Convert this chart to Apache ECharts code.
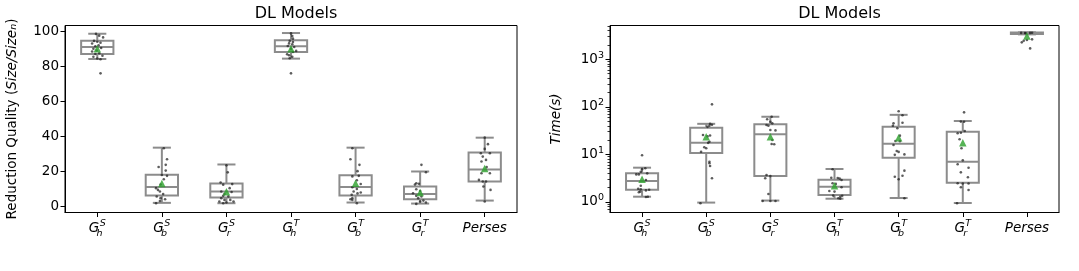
<!DOCTYPE html>
<html>
<head>
<meta charset="utf-8">
<script src="https://cdn.jsdelivr.net/npm/echarts@6/dist/echarts.min.js"></script>
<style>
  html, body { margin: 0; padding: 0; background: #fff; }
  #chart { width: 1079px; height: 271px; }
</style>
</head>
<body>
<div id="chart"></div>
<script>
// ---------------- DATA ----------------
const categories = ['G_h^S', 'G_b^S', 'G_r^S', 'G_h^T', 'G_b^T', 'G_r^T', 'Perses'];

// Box stats per category: [lowWhisker, Q1, median, Q3, highWhisker]
const qualityBoxes = [
  [84.2, 87.1, 91.0, 94.6, 98.6],
  [2.1, 6.3, 11.1, 18.1, 33.6],
  [1.9, 5.1, 8.6, 13.1, 24.0],
  [84.4, 88.2, 91.4, 94.9, 99.0],
  [2.3, 6.3, 11.2, 17.9, 33.6],
  [1.7, 4.2, 7.1, 11.4, 20.0],
  [3.4, 14.3, 21.1, 30.8, 39.3]
];
const qualityMeans = [90.0, 13.1, 8.5, 90.1, 13.3, 8.0, 21.7];

// Individual points per category: [value, jitter (category units)]
const qualityPoints = [
  [[98.5,-0.02],[97.5,0.03],[96.5,0.09],[94.5,-0.05],[94,0.0],[93.5,0.05],[93,-0.08],[92,0.02],[91.5,-0.03],[90.5,0.06],[90,-0.06],[89,-0.01],[88.5,-0.08],[87.5,0.03],[87,-0.03],[86,0.08],[85.5,-0.06],[84.5,0.0],[84,0.05],[76,0.05]],
  [[33.3,0.03],[27,0.08],[23.8,0.06],[22.6,-0.05],[20.5,0.06],[18,0.0],[17.5,0.08],[15.6,0.03],[12.6,-0.02],[10.5,-0.09],[9.5,-0.06],[8.6,-0.03],[7.1,0.02],[5.7,-0.08],[4.8,-0.02],[4.2,0.05],[3.2,-0.03],[1.9,-0.09]],
  [[23.5,0.0],[19.5,0.02],[13.7,-0.09],[12.8,0.09],[12.5,-0.05],[10.5,0.05],[8.6,-0.08],[8.3,0.08],[7.1,-0.03],[6.1,-0.05],[5.8,0.03],[4.8,-0.08],[3.8,-0.03],[3.8,0.06],[2.9,-0.11],[2.3,0.0],[1.9,-0.05],[2.9,0.11]],
  [[98.8,0.0],[97.3,0.02],[95.8,0.03],[94.5,-0.02],[93.9,0.03],[93.1,-0.03],[92.6,0.02],[91.6,-0.05],[91,0.05],[90,0.0],[88.8,0.08],[88.2,0.03],[86.9,-0.06],[86.3,-0.03],[85.5,0.02],[84.6,-0.02],[76,0.0]],
  [[33.3,-0.05],[27,-0.08],[23.8,0.06],[20.2,0.03],[17.5,0.05],[17.2,-0.05],[15,0.02],[12.9,0.08],[11,-0.05],[10,0.02],[8.6,-0.03],[8,0.08],[7.5,0.03],[6.7,-0.06],[4.8,-0.05],[4.2,-0.08],[3.8,-0.05],[1.9,0.02]],
  [[23.8,0.02],[19.6,0.09],[13.3,-0.06],[13,-0.02],[12.6,-0.08],[9.9,-0.06],[8.9,0.0],[7.6,-0.11],[6.1,-0.06],[5.7,0.02],[4.8,-0.03],[3.4,0.05],[2.9,0.0],[2.3,0.09],[1.5,-0.06]],
  [[39.3,0.0],[35.6,0.05],[32.9,0.0],[30.4,0.08],[30.4,-0.06],[28.5,-0.03],[26.6,0.02],[25.7,-0.05],[22.5,0.03],[19,-0.05],[19,0.08],[15.2,-0.09],[14.3,-0.03],[14.3,0.02],[11.4,-0.02],[9.5,0.09],[2.9,0.0]]
];

const timeBoxes = [
  [1.29, 1.81, 2.76, 4.0, 5.26],
  [0.97, 10.7, 17.7, 36.5, 44],
  [1.07, 3.5, 26.5, 43, 62],
  [1.17, 1.40, 2.1, 2.94, 4.94],
  [1.21, 8.5, 16.8, 38, 68],
  [0.95, 2.55, 7.0, 30, 50.4],
  [3350, 3400, 3550, 3650, 3700]
];
const timeMeans = [3.0, 23.6, 23.6, 2.2, 22.5, 17.6, 3100];

const timePoints = [
  [[9.6,0.0],[5.1,0.05],[4.9,0.0],[4.3,-0.02],[4.0,0.08],[3.8,-0.09],[3.8,-0.05],[2.9,0.06],[2.2,-0.02],[1.9,-0.06],[1.85,-0.02],[1.8,0.11],[1.75,0.06],[1.65,-0.03],[1.6,-0.05],[1.29,0.09],[1.27,0.06]],
  [[113,0.09],[44,0.06],[42,0.09],[40,0.05],[38,0.02],[25.6,-0.05],[25,0.06],[24,0.02],[18.5,0.05],[17.5,0.03],[14.1,-0.03],[13.5,0.0],[11.4,-0.08],[7.0,0.05],[6.5,0.05],[5.7,0.06],[3.15,0.09],[0.94,-0.09]],
  [[62,0.02],[55,-0.05],[48.7,0.0],[45,0.03],[41.6,-0.06],[40,-0.03],[32.6,0.0],[32,0.08],[20.1,0.03],[16.6,0.02],[16.4,0.06],[3.7,-0.06],[3.5,0.0],[3.15,-0.08],[1.47,-0.03],[1.05,-0.12],[1.05,0.08],[1.05,0.0]],
  [[4.87,-0.03],[3.24,-0.05],[3.2,0.05],[3.1,0.08],[2.9,0.11],[2.47,-0.03],[2.4,0.02],[2.04,0.11],[1.70,-0.08],[1.65,0.0],[1.36,-0.02],[1.29,0.09],[1.35,0.12],[1.2,0.06],[1.17,0.09]],
  [[80.7,0.0],[66.5,0.06],[46.5,0.06],[45,-0.08],[40.2,-0.09],[35.4,-0.02],[24.8,0.02],[19.1,-0.05],[19,0.02],[15.8,-0.08],[11.8,-0.03],[11.3,0.0],[10,0.09],[9.8,-0.06],[4.55,0.09],[3.57,0.06],[3.4,-0.06],[3.0,0.0],[1.2,0.09]],
  [[76.8,0.02],[49,-0.03],[48.7,0.02],[31,0.03],[28.5,-0.03],[27.8,-0.08],[20.8,-0.05],[13.5,-0.02],[7.5,0.0],[6.2,-0.08],[5.26,0.09],[4.2,-0.03],[3.3,0.08],[2.47,-0.08],[2.45,0.0],[2.45,0.09],[2.04,-0.03],[1.79,0.09],[0.94,-0.09]],
  [[3600,-0.09],[3580,-0.03],[3600,0.05],[3550,-0.02],[3620,0.08],[2630,0.08],[2560,0.0],[2460,-0.05],[2275,-0.08],[1700,0.05]]
];

const qualityTicks = [0, 20, 40, 60, 80, 100];
const timeTicks = [1, 10, 100, 1000];
const timeMinorTicks = [0.7, 0.8, 0.9, 2, 3, 4, 5, 6, 7, 8, 9, 20, 30, 40, 50, 60, 70, 80, 90,
  200, 300, 400, 500, 600, 700, 800, 900, 2000, 3000, 4000, 5000];

// ---------------- STYLE ----------------
const FONT = 'DejaVu Sans';
const BOX_COLOR = '#8c8c8c';
const BOX_W = 0.5;
const CAP_W = 0.28;

function renderBox(params, api) {
  const x = api.value(0);
  const lo = api.value(1), q1 = api.value(2), med = api.value(3), q3 = api.value(4), hi = api.value(5);
  const L = api.coord([x - BOX_W / 2, med])[0];
  const R = api.coord([x + BOX_W / 2, med])[0];
  const CL = api.coord([x - CAP_W / 2, med])[0];
  const CR = api.coord([x + CAP_W / 2, med])[0];
  const cx = api.coord([x, med])[0];
  const yLo = api.coord([x, lo])[1];
  const yQ1 = api.coord([x, q1])[1];
  const yMed = api.coord([x, med])[1];
  const yQ3 = api.coord([x, q3])[1];
  const yHi = api.coord([x, hi])[1];
  const st = { stroke: BOX_COLOR, lineWidth: 2, fill: null };
  return {
    type: 'group',
    children: [
      { type: 'line', shape: { x1: cx, y1: yQ1, x2: cx, y2: yLo }, style: st },
      { type: 'line', shape: { x1: cx, y1: yQ3, x2: cx, y2: yHi }, style: st },
      { type: 'line', shape: { x1: CL, y1: yLo, x2: CR, y2: yLo }, style: st },
      { type: 'line', shape: { x1: CL, y1: yHi, x2: CR, y2: yHi }, style: st },
      { type: 'rect', shape: { x: L, y: yQ3, width: R - L, height: yQ1 - yQ3 }, style: { stroke: BOX_COLOR, lineWidth: 2, fill: 'rgba(0,0,0,0)' } },
      { type: 'line', shape: { x1: L, y1: yMed, x2: R, y2: yMed }, style: st }
    ]
  };
}

function boxData(boxes) { return boxes.map((b, i) => [i].concat(b)); }
function pointData(points) {
  const out = [];
  points.forEach((arr, i) => arr.forEach(p => out.push([i + p[1], p[0]])));
  return out;
}
function meanData(means) { return means.map((m, i) => [i, m]); }

const catLabelRich = {
  g: { fontFamily: FONT, fontStyle: 'italic', fontSize: 13.5, lineHeight: 20, color: '#000' },
  sub: { fontFamily: FONT, fontStyle: 'italic', fontSize: 9.5, lineHeight: 11, verticalAlign: 'bottom', width: 0.5, color: '#000' },
  sup: { fontFamily: FONT, fontStyle: 'italic', fontSize: 9.5, lineHeight: 11, verticalAlign: 'top', color: '#000' },
  it: { fontFamily: FONT, fontStyle: 'italic', fontSize: 13.5, lineHeight: 20, color: '#000' }
};
function catFormatter(v) {
  const m = v.match(/^G_(\w)\^(\w)$/);
  if (m) return '{g|G}{sub|' + m[1] + '}{sup|' + m[2] + '}';
  return '{it|' + v + '}';
}

function catAxis(gridIndex) {
  return {
    type: 'category', gridIndex: gridIndex, data: categories, boundaryGap: true,
    axisLine: { show: true, onZero: false, lineStyle: { color: '#000', width: 1 } },
    axisTick: { show: true, alignWithLabel: true, length: 4.5, lineStyle: { color: '#000' } },
    axisLabel: { margin: 6, formatter: catFormatter, rich: catLabelRich, interval: 0 },
    splitLine: { show: false }
  };
}
function valXAxis(gridIndex) {
  return { type: 'value', gridIndex: gridIndex, min: -0.5, max: 6.5, show: false,
    axisLine: { show: false, onZero: false }, splitLine: { show: false } };
}

const option = {
  animation: false,
  backgroundColor: '#fff',
  textStyle: { fontFamily: FONT },
  title: [
    { text: 'DL Models', left: 291, top: 1, textAlign: 'center', textStyle: { fontFamily: FONT, fontSize: 16, fontWeight: 'normal', color: '#000' } },
    { text: 'DL Models', left: 834.5, top: 1, textAlign: 'center', textStyle: { fontFamily: FONT, fontSize: 16, fontWeight: 'normal', color: '#000' } }
  ],
  grid: [
    { left: 65, top: 25.5, width: 452, height: 187, show: true, borderColor: '#000', borderWidth: 1, backgroundColor: 'transparent' },
    { left: 610, top: 25.5, width: 449, height: 187, show: true, borderColor: '#000', borderWidth: 1, backgroundColor: 'transparent' }
  ],
  xAxis: [catAxis(0), valXAxis(0), catAxis(1), valXAxis(1)],
  yAxis: [
    {
      type: 'value', gridIndex: 0, min: -3.4, max: 103.3, position: 'left',
      name: 'Reduction Quality ({i|Size/Size}{s|n})',
      nameLocation: 'middle', nameGap: 46, nameRotate: 90,
      nameTextStyle: {
        fontFamily: FONT, fontSize: 13.5, color: '#000',
        rich: {
          i: { fontFamily: FONT, fontStyle: 'italic', fontSize: 13.5, color: '#000' },
          s: { fontFamily: FONT, fontStyle: 'italic', fontSize: 9.5, color: '#000', verticalAlign: 'bottom' }
        }
      },
      axisLine: { show: true, onZero: false, lineStyle: { color: '#000' } },
      axisTick: { show: true, length: 4.5, customValues: qualityTicks, lineStyle: { color: '#000' } },
      axisLabel: { customValues: qualityTicks, margin: 6, fontFamily: FONT, fontSize: 13.5, color: '#000' },
      splitLine: { show: false }
    },
    {
      type: 'log', logBase: 10, gridIndex: 1, min: 0.6, max: 5150, position: 'left',
      name: 'Time(s)', nameLocation: 'middle', nameGap: 47, nameRotate: 90,
      nameTextStyle: { fontFamily: FONT, fontStyle: 'italic', fontSize: 13.5, color: '#000' },
      axisLine: { show: true, onZero: false, lineStyle: { color: '#000' } },
      axisTick: { show: true, length: 4.5, customValues: timeTicks, lineStyle: { color: '#000' } },
      axisLabel: {
        customValues: timeTicks, margin: 6,
        formatter: function (v) { return '{b|10}{e|' + Math.round(Math.log10(v)) + '}'; },
        rich: {
          b: { fontFamily: FONT, fontSize: 13.5, lineHeight: 18, color: '#000' },
          e: { fontFamily: FONT, fontSize: 9.5, lineHeight: 11, verticalAlign: 'top', color: '#000' }
        }
      },
      splitLine: { show: false }
    },
    {
      type: 'log', logBase: 10, gridIndex: 1, min: 0.6, max: 5150, position: 'left', offset: 0,
      axisLine: { show: false, onZero: false },
      axisTick: { show: true, length: 2.5, customValues: timeMinorTicks, lineStyle: { color: '#000', width: 0.8 } },
      axisLabel: { show: false },
      splitLine: { show: false }
    }
  ],
  series: [
    { type: 'custom', xAxisIndex: 1, yAxisIndex: 0, renderItem: renderBox, data: boxData(qualityBoxes), encode: { x: 0, y: [1, 2, 3, 4, 5] }, z: 2 },
    { type: 'scatter', xAxisIndex: 1, yAxisIndex: 0, data: pointData(qualityPoints), symbol: 'circle', symbolSize: 2.6, itemStyle: { color: 'rgba(30,30,30,0.9)' }, z: 3 },
    { type: 'scatter', xAxisIndex: 1, yAxisIndex: 0, data: meanData(qualityMeans), symbol: 'triangle', symbolSize: 7.5, itemStyle: { color: '#2ca02c' }, z: 4 },
    { type: 'custom', xAxisIndex: 3, yAxisIndex: 1, renderItem: renderBox, data: boxData(timeBoxes), encode: { x: 0, y: [1, 2, 3, 4, 5] }, z: 2 },
    { type: 'scatter', xAxisIndex: 3, yAxisIndex: 1, data: pointData(timePoints), symbol: 'circle', symbolSize: 2.6, itemStyle: { color: 'rgba(30,30,30,0.9)' }, z: 3 },
    { type: 'scatter', xAxisIndex: 3, yAxisIndex: 1, data: meanData(timeMeans), symbol: 'triangle', symbolSize: 7.5, itemStyle: { color: '#2ca02c' }, z: 4 }
  ]
};

const chart = echarts.init(document.getElementById('chart'), null, { renderer: 'canvas' });
chart.setOption(option);
</script>
</body>
</html>
